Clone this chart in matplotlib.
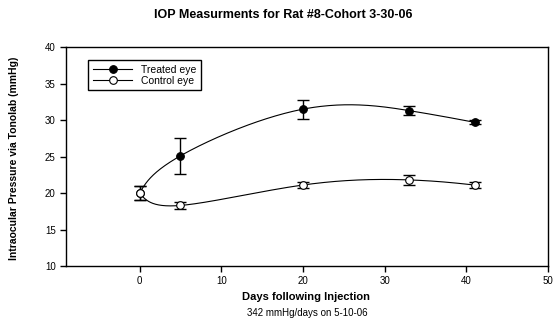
import numpy as np
import matplotlib.pyplot as plt

plt.rcParams['font.family'] = ['Liberation Sans', 'DejaVu Sans']

days = [0, 5, 20, 33, 41]
treated = [20.0, 25.1, 31.5, 31.3, 29.7]
treated_err = [1.0, 2.5, 1.3, 0.6, 0.3]
control = [20.0, 18.3, 21.1, 21.8, 21.1]
control_err = [1.0, 0.5, 0.4, 0.7, 0.4]


def spline_coeffs(t, y):
    # second derivatives of a natural cubic spline
    k = len(t)
    h = np.diff(t)
    A = np.zeros((k, k))
    r = np.zeros(k)
    A[0, 0] = A[-1, -1] = 1
    for i in range(1, k - 1):
        A[i, i - 1] = h[i - 1]
        A[i, i] = 2 * (h[i - 1] + h[i])
        A[i, i + 1] = h[i]
        r[i] = 6 * ((y[i + 1] - y[i]) / h[i] - (y[i] - y[i - 1]) / h[i - 1])
    return np.linalg.solve(A, r)


def spline_eval(t, y, m, ts):
    h = np.diff(t)
    j = np.clip(np.searchsorted(t, ts) - 1, 0, len(t) - 2)
    t0 = t[j + 1] - ts
    t1 = ts - t[j]
    hj = h[j]
    return (m[j] * t0**3 + m[j + 1] * t1**3) / (6 * hj) \
        + (y[j] / hj - m[j] * hj / 6) * t0 \
        + (y[j + 1] / hj - m[j + 1] * hj / 6) * t1


def smooth_curve(x, y, n=300):
    # parametric spline through the points, one parameter step per point
    x = np.asarray(x, float)
    y = np.asarray(y, float)
    t = np.arange(len(x), dtype=float)
    ts = np.linspace(0, t[-1], n)
    xs = spline_eval(t, x, spline_coeffs(t, x), ts)
    ys = spline_eval(t, y, spline_coeffs(t, y), ts)
    return xs, ys


fig = plt.figure(figsize=(5.57, 3.23), dpi=100)
ax = fig.add_axes([0.1185, 0.1765, 0.8655, 0.6775])
ax.set_xlim(-9, 50)
ax.set_ylim(10, 40)

for vals, errs, face, lab in [(treated, treated_err, 'black', 'Treated eye'),
                              (control, control_err, 'white', 'Control eye')]:
    xs, ys = smooth_curve(days, vals)
    ax.plot(xs, ys, color='black', lw=0.8, zorder=2)
    ax.errorbar(days, vals, yerr=errs, fmt='none', ecolor='black',
                elinewidth=1.0, capsize=4, capthick=1.0, zorder=3)
    ax.plot(days, vals, 'o', ms=5.5, mfc=face, mec='black', mew=0.8, zorder=4)
    ax.plot([], [], '-o', color='black', ms=5.5, mfc=face, mec='black',
            mew=0.8, lw=0.8, label=lab)

ax.set_xticks([0, 10, 20, 30, 40, 50])
ax.set_yticks([10, 15, 20, 25, 30, 35, 40])
ax.tick_params(direction='out', length=4, width=1, labelsize=7, colors='black')
for s in ax.spines.values():
    s.set_linewidth(1.0)

ax.legend(loc='upper left', bbox_to_anchor=(0.035, 0.965), fontsize=7.5,
          frameon=True, fancybox=False, edgecolor='black', borderpad=0.45,
          handlelength=3.8, labelspacing=0.1, framealpha=1)

fig.text(0.509, 0.955, 'IOP Measurments for Rat #8-Cohort 3-30-06',
         ha='center', va='center', fontsize=9, fontweight='bold')
fig.text(0.025, 0.509, 'Intraocular Pressure via Tonolab (mmHg)', rotation=90,
         ha='center', va='center', fontsize=7.5, fontweight='bold')
fig.text(0.55, 0.08, 'Days following Injection', ha='center', va='center',
         fontsize=8, fontweight='bold')
fig.text(0.551, 0.03, '342 mmHg/days on 5-10-06', ha='center', va='center',
         fontsize=7)

fig.savefig('out.png', dpi=100)
